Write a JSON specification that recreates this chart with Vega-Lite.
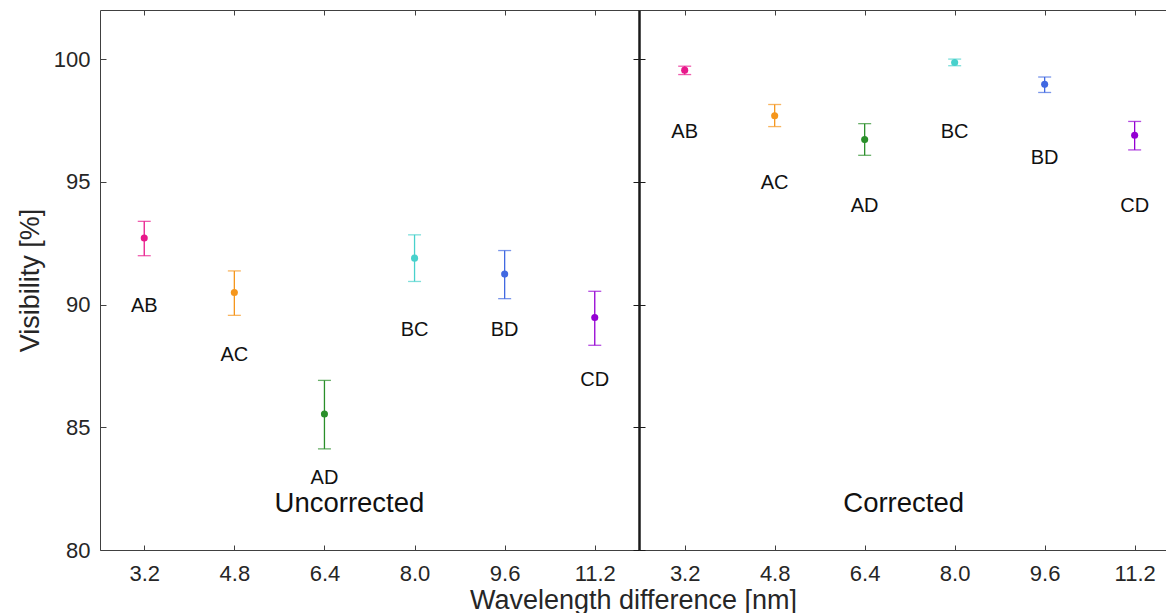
{
  "$schema": "https://vega.github.io/schema/vega-lite/v6.json",
  "padding": {"left": 16, "top": 9, "right": 0, "bottom": 0},
  "spacing": 0,
  "bounds": "flush",
  "background": "white",
  "config": {
    "view": {"stroke": "transparent", "strokeWidth": 0, "strokeOpacity": 0},
    "font": "Liberation Sans",
    "axis": {"grid": false, "labelColor": "#262626", "titleColor": "#262626", "titleFontWeight": "normal", "domainColor": "#404040", "tickColor": "#404040", "domainWidth": 1, "tickWidth": 1}
  },
  "data": {
    "values": [
      {"panel": "Uncorrected", "wl": "3.2", "pair": "AB", "v": 92.71, "lo": 91.99, "hi": 93.39, "ly": 89.96},
      {"panel": "Uncorrected", "wl": "4.8", "pair": "AC", "v": 90.49, "lo": 89.56, "hi": 91.37, "ly": 87.95},
      {"panel": "Uncorrected", "wl": "6.4", "pair": "AD", "v": 85.54, "lo": 84.12, "hi": 86.91, "ly": 82.95},
      {"panel": "Uncorrected", "wl": "8.0", "pair": "BC", "v": 91.89, "lo": 90.94, "hi": 92.84, "ly": 88.97},
      {"panel": "Uncorrected", "wl": "9.6", "pair": "BD", "v": 91.24, "lo": 90.24, "hi": 92.2, "ly": 88.97},
      {"panel": "Uncorrected", "wl": "11.2", "pair": "CD", "v": 89.47, "lo": 88.34, "hi": 90.54, "ly": 86.93},
      {"panel": "Corrected", "wl": "3.2", "pair": "AB", "v": 99.55, "lo": 99.37, "hi": 99.71, "ly": 97.03},
      {"panel": "Corrected", "wl": "4.8", "pair": "AC", "v": 97.69, "lo": 97.25, "hi": 98.15, "ly": 94.95},
      {"panel": "Corrected", "wl": "6.4", "pair": "AD", "v": 96.72, "lo": 96.08, "hi": 97.37, "ly": 94.0},
      {"panel": "Corrected", "wl": "8.0", "pair": "BC", "v": 99.86, "lo": 99.73, "hi": 100.0, "ly": 97.03},
      {"panel": "Corrected", "wl": "9.6", "pair": "BD", "v": 98.97, "lo": 98.64, "hi": 99.27, "ly": 95.97},
      {"panel": "Corrected", "wl": "11.2", "pair": "CD", "v": 96.9, "lo": 96.3, "hi": 97.46, "ly": 94.0}
    ]
  },
  "hconcat": [
    {
      "width": 539,
      "height": 540,
      "transform": [{"filter": "datum.panel === 'Uncorrected'"}],
      "layer": [
        {
          "mark": {"type": "rule", "strokeWidth": 1.3},
          "encoding": {
            "x": {"field": "wl", "type": "ordinal", "sort": null,
              "scale": {"type": "point", "padding": 0.491, "domain": ["3.2", "4.8", "6.4", "8.0", "9.6", "11.2"]},
              "axis": {"orient": "bottom", "tickSize": -5, "labelPadding": 18, "labelFontSize": 22, "labelAngle": 0,
                "title": "Wavelength difference [nm]", "titleFontSize": 27, "titleX": 533, "titleY": 58, "titleBaseline": "alphabetic", "titleAlign": "center", "titleAnchor": null}},
            "y": {"field": "lo", "type": "quantitative",
              "scale": {"domain": [80, 102], "nice": false, "zero": false},
              "axis": {"orient": "left", "values": [80, 85, 90, 95, 100], "tickSize": -6, "labelPadding": 16, "labelFontSize": 22,
                "title": "Visibility [%]", "titleFontSize": 27, "titleX": -70, "titleY": 270, "titleAngle": -90, "titleBaseline": "middle", "titleAlign": "center"}},
            "y2": {"field": "hi"},
            "color": {"field": "pair", "type": "nominal", "legend": null,
              "scale": {"domain": ["AB", "AC", "AD", "BC", "BD", "CD"], "range": ["#e8198b", "#f5961c", "#2a8f2a", "#48d1cc", "#4169e1", "#9400d3"]}}
          }
        },
        {
          "mark": {"type": "tick", "orient": "horizontal", "size": 13, "thickness": 1.3},
          "encoding": {
            "x": {"field": "wl", "type": "ordinal", "sort": null, "axis": null},
            "y": {"field": "lo", "type": "quantitative", "axis": null},
            "color": {"field": "pair", "type": "nominal", "legend": null}
          }
        },
        {
          "mark": {"type": "tick", "orient": "horizontal", "size": 13, "thickness": 1.3},
          "encoding": {
            "x": {"field": "wl", "type": "ordinal", "sort": null,
              "axis": {"orient": "top", "labels": false, "tickSize": -5, "title": null}},
            "y": {"field": "hi", "type": "quantitative",
              "axis": {"orient": "right", "labels": false, "values": [80, 85, 90, 95, 100], "tickSize": -6, "title": null, "domainColor": "#1a1a1a", "domainWidth": 2, "tickColor": "#1a1a1a"}},
            "color": {"field": "pair", "type": "nominal", "legend": null}
          }
        },
        {
          "mark": {"type": "point", "filled": true, "size": 50, "opacity": 1},
          "encoding": {
            "x": {"field": "wl", "type": "ordinal", "sort": null, "axis": null},
            "y": {"field": "v", "type": "quantitative", "axis": null},
            "color": {"field": "pair", "type": "nominal", "legend": null}
          }
        },
        {
          "mark": {"type": "text", "fontSize": 20, "color": "#111111", "baseline": "middle", "align": "center"},
          "encoding": {
            "x": {"field": "wl", "type": "ordinal", "sort": null, "axis": null},
            "y": {"field": "ly", "type": "quantitative", "axis": null},
            "text": {"field": "pair"}
          }
        },
        {
          "data": {"values": [{"name": "Uncorrected"}]},
          "mark": {"type": "text", "fontSize": 27.5, "color": "#111111", "baseline": "middle", "align": "center", "dx": 25},
          "encoding": {
            "x": {"datum": "6.4", "type": "ordinal", "axis": null},
            "y": {"datum": 81.87, "type": "quantitative", "axis": null},
            "text": {"field": "name"}
          }
        }
      ],
      "resolve": {"axis": {"x": "independent", "y": "independent"}}
    },
    {
      "width": 527,
      "height": 540,
      "transform": [{"filter": "datum.panel === 'Corrected'"}],
      "layer": [
        {
          "mark": {"type": "rule", "strokeWidth": 1.3},
          "encoding": {
            "x": {"field": "wl", "type": "ordinal", "sort": null,
              "scale": {"type": "point", "padding": 0.428, "align": 0.593, "domain": ["3.2", "4.8", "6.4", "8.0", "9.6", "11.2"]},
              "axis": {"orient": "bottom", "tickSize": -5, "labelPadding": 18, "labelFontSize": 22, "labelAngle": 0, "title": null}},
            "y": {"field": "lo", "type": "quantitative",
              "scale": {"domain": [80, 102], "nice": false, "zero": false},
              "axis": {"orient": "left", "labels": false, "values": [80, 85, 90, 95, 100], "tickSize": -6, "title": null, "domainColor": "#1a1a1a", "domainWidth": 2, "tickColor": "#1a1a1a"}},
            "y2": {"field": "hi"},
            "color": {"field": "pair", "type": "nominal", "legend": null,
              "scale": {"domain": ["AB", "AC", "AD", "BC", "BD", "CD"], "range": ["#e8198b", "#f5961c", "#2a8f2a", "#48d1cc", "#4169e1", "#9400d3"]}}
          }
        },
        {
          "mark": {"type": "tick", "orient": "horizontal", "size": 13, "thickness": 1.3},
          "encoding": {
            "x": {"field": "wl", "type": "ordinal", "sort": null, "axis": null},
            "y": {"field": "lo", "type": "quantitative", "axis": null},
            "color": {"field": "pair", "type": "nominal", "legend": null}
          }
        },
        {
          "mark": {"type": "tick", "orient": "horizontal", "size": 13, "thickness": 1.3},
          "encoding": {
            "x": {"field": "wl", "type": "ordinal", "sort": null,
              "axis": {"orient": "top", "labels": false, "tickSize": -5, "title": null}},
            "y": {"field": "hi", "type": "quantitative", "axis": null},
            "color": {"field": "pair", "type": "nominal", "legend": null}
          }
        },
        {
          "mark": {"type": "point", "filled": true, "size": 50, "opacity": 1},
          "encoding": {
            "x": {"field": "wl", "type": "ordinal", "sort": null, "axis": null},
            "y": {"field": "v", "type": "quantitative", "axis": null},
            "color": {"field": "pair", "type": "nominal", "legend": null}
          }
        },
        {
          "mark": {"type": "text", "fontSize": 20, "color": "#111111", "baseline": "middle", "align": "center"},
          "encoding": {
            "x": {"field": "wl", "type": "ordinal", "sort": null, "axis": null},
            "y": {"field": "ly", "type": "quantitative", "axis": null},
            "text": {"field": "pair"}
          }
        },
        {
          "data": {"values": [{"name": "Corrected"}]},
          "mark": {"type": "text", "fontSize": 27.5, "color": "#111111", "baseline": "middle", "align": "center", "dx": 39},
          "encoding": {
            "x": {"datum": "6.4", "type": "ordinal", "axis": null},
            "y": {"datum": 81.87, "type": "quantitative", "axis": null},
            "text": {"field": "name"}
          }
        }
      ],
      "resolve": {"axis": {"x": "independent", "y": "independent"}}
    }
  ]
}
